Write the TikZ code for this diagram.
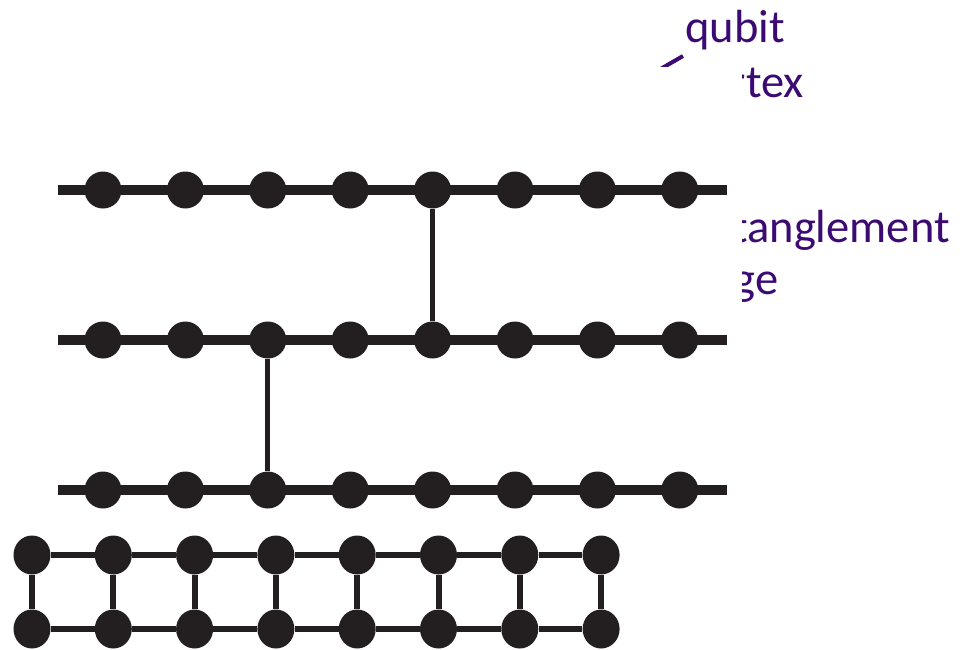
\documentclass[tikz,border=0pt]{standalone}
\usepackage{fontspec}
\setmainfont{Carlito}
\usepackage{tikz}
\usetikzlibrary{positioning,shapes.geometric}
\definecolor{ink}{HTML}{231F20}
\definecolor{note}{HTML}{3B0B73}

\begin{document}
\begin{tikzpicture}[
  x=1pt, y=-1pt,
  lbl/.style={font=\fontsize{46.5}{55}\selectfont, color=note, inner sep=0pt, anchor=base west},
  qnode/.style={circle, fill=ink, inner sep=0pt, minimum size=37pt},
  lnode/.style={ellipse, fill=ink, inner sep=0pt, minimum width=37pt, minimum height=39pt},
  chain/.style={draw=ink, line width=10pt},
  link/.style={draw=ink, line width=5pt},
  rung/.style={draw=ink, line width=6pt}
]
\useasboundingbox (0,0) rectangle (975,649);

% labels on the right
\node[lbl] (qb) at (685,42) {qubit};
\node[lbl] (vx) at (686,97) {vertex};
\node[lbl] (ent) at (685,242) {entanglement};
\node[lbl] (ed) at (686,294) {edge};
\coordinate (qtip) at (600,104);
\draw[draw=note, line width=4pt] (683,56) -- (qtip);

% graph panel sits on top of the labels
\fill[white] (0,67) rectangle (742,649);

% three linear clusters
\foreach \r/\y in {1/190, 2/340, 3/490} {
  \coordinate (s\r) at (58,\y);
  \coordinate (e\r) at (727,\y);
  \draw[chain] (s\r) -- (e\r);
  \foreach \i in {1,...,8}
    \node[qnode] (c\r-\i) at ({103+82.4*(\i-1)},\y) {};
}
\draw[link] (c1-5) -- (c2-5);
\draw[link] (c2-3) -- (c3-3);

% ladder
\foreach \i in {1,...,8} {
  \node[lnode] (t\i) at ({32+81.3*(\i-1)},555) {};
  \node[lnode] (b\i) at ({32+81.3*(\i-1)},629) {};
}
\foreach \i in {1,...,8}
  \draw[rung] (t\i) -- (b\i);
\foreach \i [count=\j from 2] in {1,...,7} {
  \draw[rung] (t\i) -- (t\j);
  \draw[rung] (b\i) -- (b\j);
}
\end{tikzpicture}
\end{document}
